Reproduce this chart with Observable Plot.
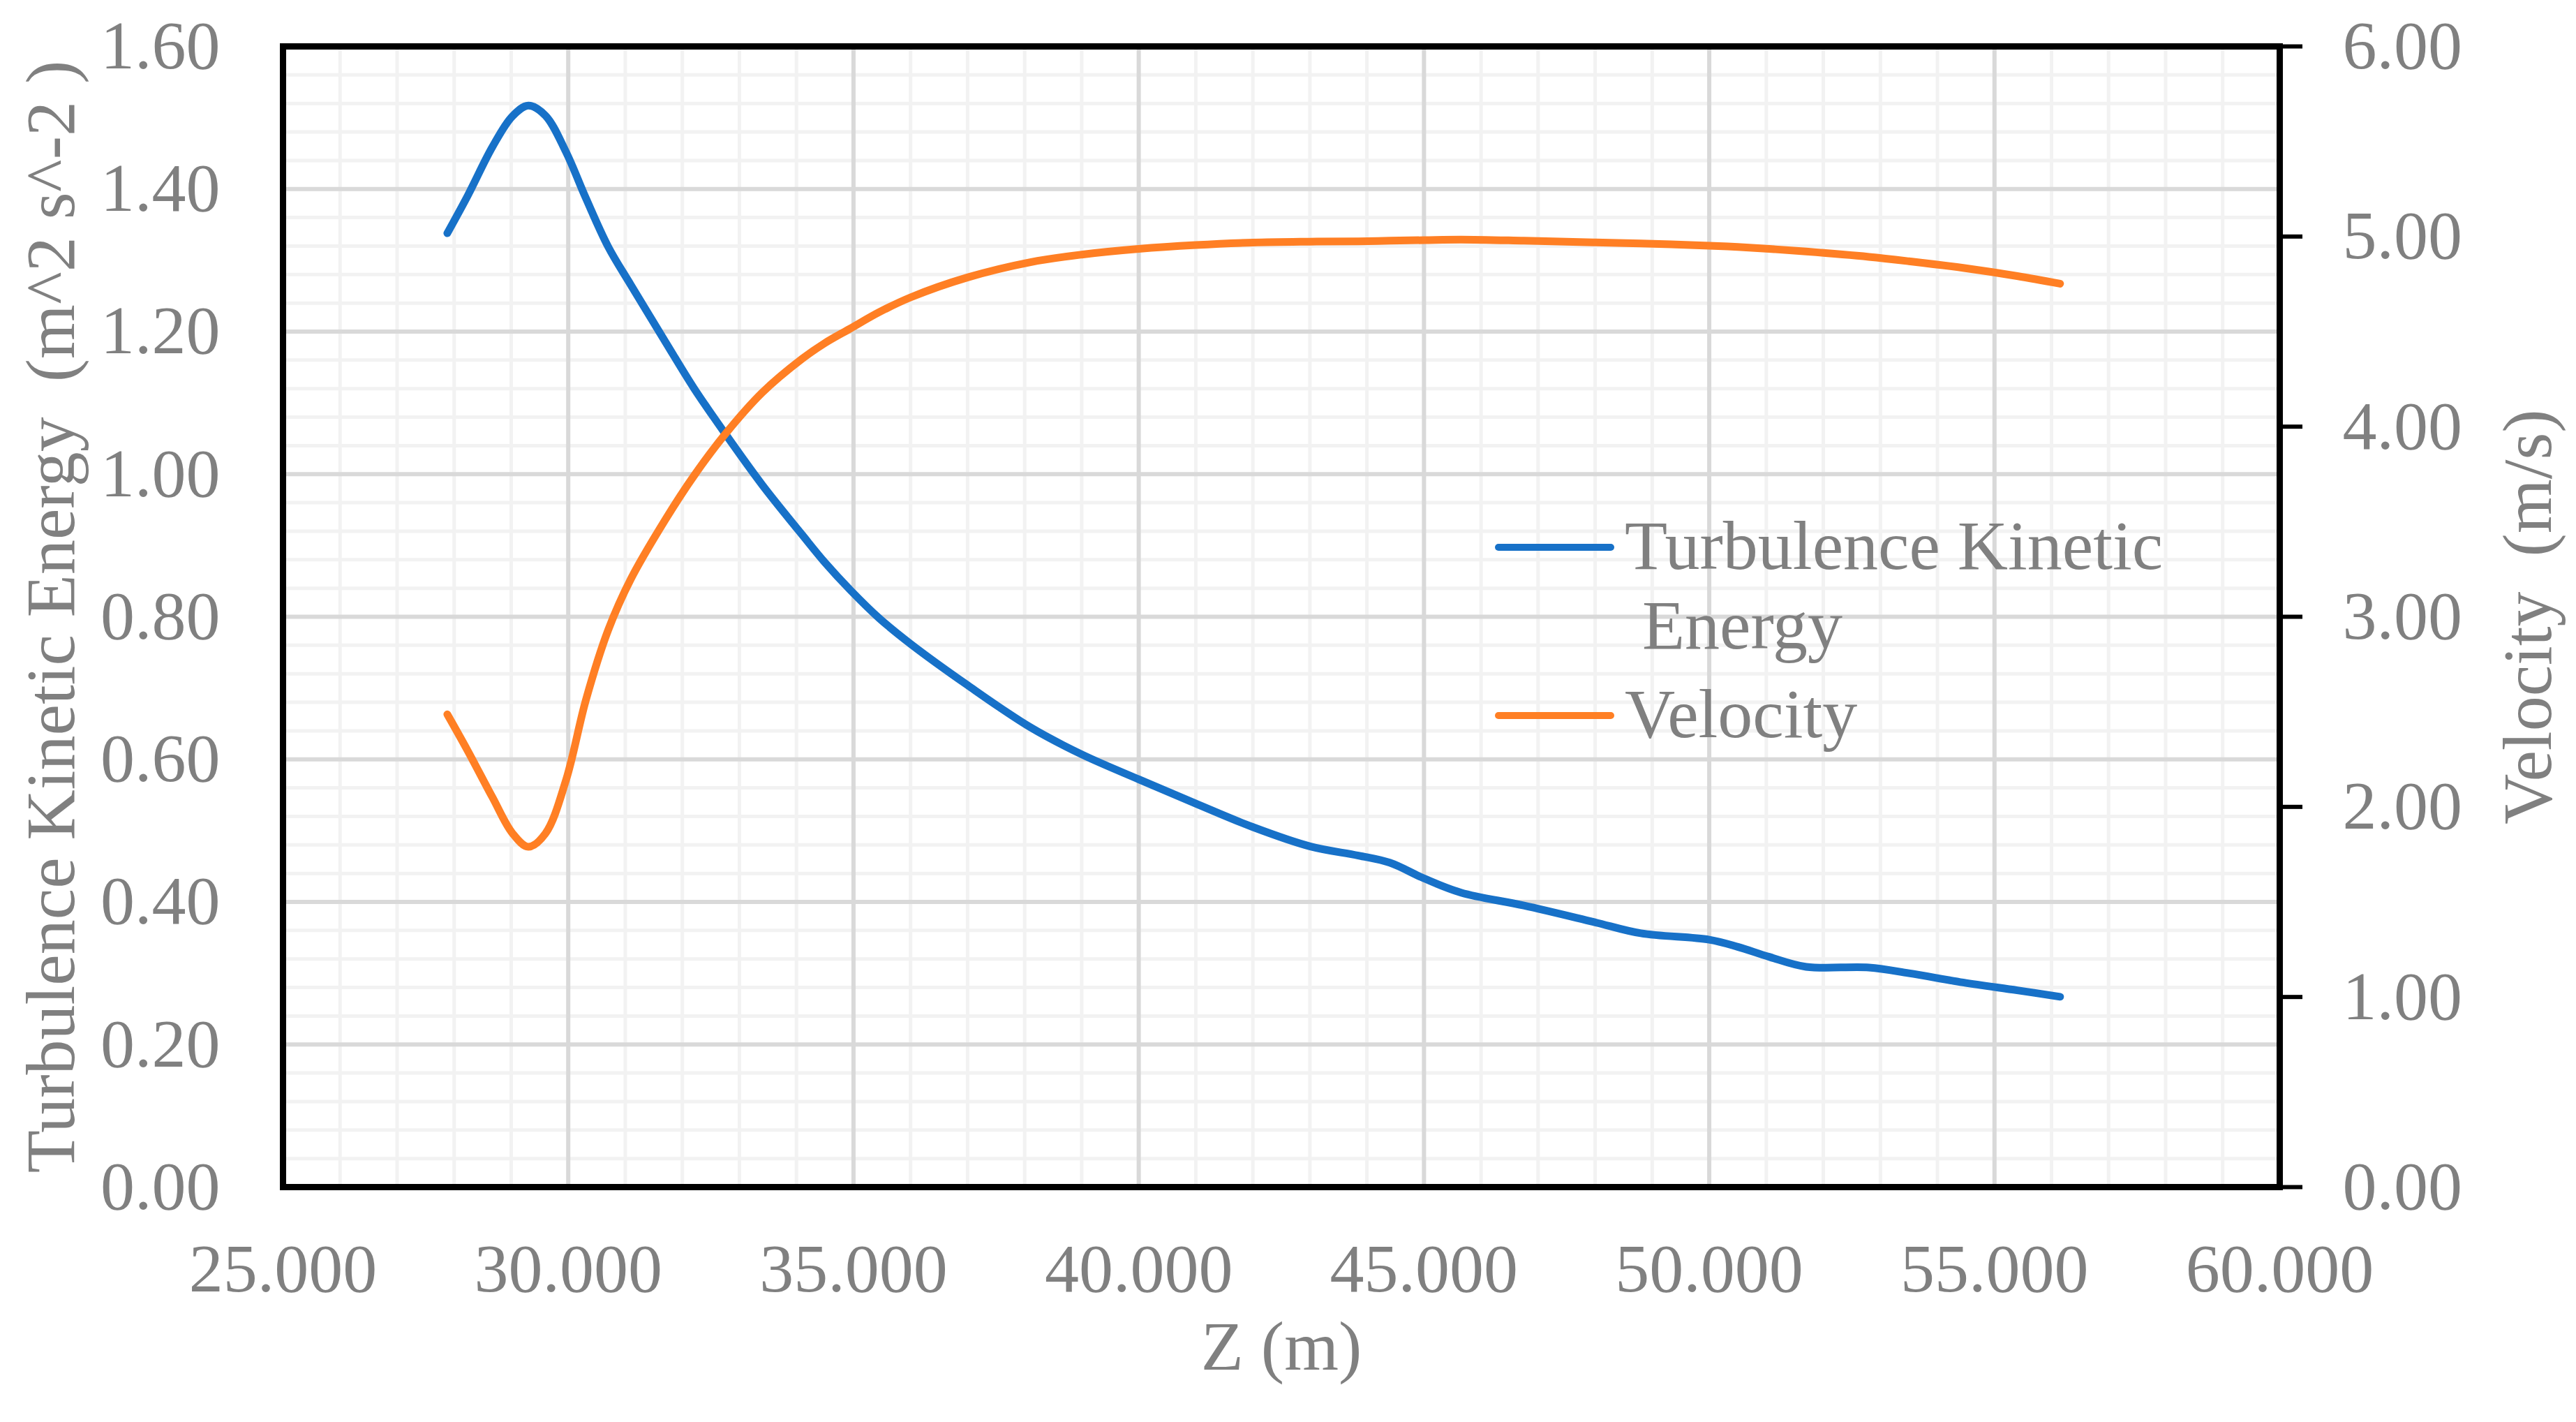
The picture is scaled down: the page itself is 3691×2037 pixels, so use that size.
<!DOCTYPE html>
<html>
<head>
<meta charset="utf-8">
<script src="https://cdn.jsdelivr.net/npm/d3@7"></script>
<script src="https://cdn.jsdelivr.net/npm/@observablehq/plot@0.6"></script>
<style>
  html, body { margin: 0; padding: 0; background: white; overflow: hidden; }
  #chart svg { display: block; }
  #chart text { white-space: pre; }
</style>
</head>
<body>
<div id="chart"></div>
<script>
// Z positions (m)
const zValues = [27.88, 28.24, 28.67, 29.02, 29.3, 29.6, 29.96, 30.31, 30.7, 31.1,
  31.7, 32.2, 32.75, 33.4, 34.1, 34.5, 34.95, 35.45, 36.0, 37.0, 38.1, 39.0,
  40.0, 41.0, 42.0, 43.0, 43.85, 44.4, 45.0, 45.65, 46.75, 47.97,
  48.8, 50.0, 50.5, 51.05, 51.7, 52.8, 53.5, 54.45, 55.4, 56.15];

// Turbulence Kinetic Energy (m^2 s^-2), left axis
const tkeValues = [1.338, 1.391, 1.459, 1.502, 1.517, 1.503, 1.452, 1.387, 1.319, 1.265,
  1.186, 1.121, 1.057, 0.985, 0.915, 0.876, 0.837, 0.798, 0.762, 0.704, 0.645, 0.607,
  0.572, 0.538, 0.505, 0.478, 0.465, 0.455, 0.433, 0.413, 0.395, 0.372,
  0.356, 0.347, 0.337, 0.323, 0.309, 0.308, 0.300, 0.287, 0.276, 0.267];

// Velocity (m/s), right axis
const velValues = [2.487, 2.294, 2.051, 1.862, 1.79, 1.86, 2.14, 2.563, 2.93, 3.20,
  3.51, 3.74, 3.96, 4.179, 4.357, 4.44, 4.517, 4.602, 4.680, 4.785, 4.865, 4.905,
  4.935, 4.955, 4.968, 4.973, 4.975, 4.978, 4.981, 4.984, 4.978, 4.969,
  4.964, 4.952, 4.945, 4.935, 4.921, 4.893, 4.870, 4.835, 4.792, 4.752];

const zTicks = [25, 30, 35, 40, 45, 50, 55, 60];
const tkeTicks = [0, 0.2, 0.4, 0.6, 0.8, 1.0, 1.2, 1.4, 1.6];
const velTicks = [0, 1, 2, 3, 4, 5, 6];
const zMinor = d3.range(25, 60.5, 1);
const tkeMinor = d3.range(0, 1.601, 0.04);

const seriesNames = ["Turbulence Kinetic\n Energy", "Velocity"];
const xTitle = "Z (m)";
const yTitle = "Turbulence Kinetic Energy  (m^2 s^-2 )";
const y2Title = "Velocity  (m/s)";

const blue = "#1771c8";
const orange = "#ff7f24";
const gray = "#808080";
const k = 1.6 / 6; // velocity -> left axis units

const rows = zValues.map((z, i) => ({z, tke: tkeValues[i], vel: velValues[i]}));

const W = 3691, H = 2037;
const mL = 405, mR = 425, mT = 66, mB = 337;

const chart = Plot.plot({
  width: W,
  height: H,
  marginLeft: mL,
  marginRight: mR,
  marginTop: mT,
  marginBottom: mB,
  x: {domain: [25, 60]},
  y: {domain: [0, 1.6]},
  style: {fontFamily: "'Liberation Serif', 'Times New Roman', serif", background: "white"},
  marks: [
    Plot.ruleX(zMinor, {stroke: "#f2f2f2", strokeWidth: 5}),
    Plot.ruleY(tkeMinor, {stroke: "#f2f2f2", strokeWidth: 5}),
    Plot.ruleX(zTicks, {stroke: "#d9d9d9", strokeWidth: 6}),
    Plot.ruleY(tkeTicks, {stroke: "#d9d9d9", strokeWidth: 6}),
    Plot.line(rows, {x: "z", y: "tke", stroke: blue, strokeWidth: 11, curve: "catmull-rom", strokeLinecap: "round"}),
    Plot.line(rows, {x: "z", y: d => d.vel * k, stroke: orange, strokeWidth: 11, curve: "catmull-rom", strokeLinecap: "round"}),
    Plot.frame({stroke: "black", strokeWidth: 9}),
    Plot.axisX({
      ticks: zTicks, tickSize: 0, tickPadding: 80, label: null,
      tickFormat: d => d.toFixed(3), fontSize: 98, fill: gray
    }),
    Plot.axisY({
      anchor: "left", ticks: tkeTicks, tickSize: 0, tickPadding: 90, label: null,
      tickFormat: d => d.toFixed(2), fontSize: 98, fill: gray
    }),
    Plot.axisY({
      anchor: "right", ticks: velTicks.map(v => v * k), tickSize: 32, tickPadding: 58, label: null,
      tickFormat: d => (d / k).toFixed(2), fontSize: 98, fill: gray, stroke: "black", strokeWidth: 6
    }),
    Plot.text([xTitle], {frameAnchor: "bottom", dy: 261, text: d => d, fontSize: 100, fill: gray}),
    Plot.text([yTitle], {frameAnchor: "left", textAnchor: "middle", dx: -332, rotate: -90, text: d => d, fontSize: 100, fill: gray}),
    Plot.text([y2Title], {frameAnchor: "right", textAnchor: "middle", dx: 356, rotate: -90, text: d => d, fontSize: 100, fill: gray})
  ]
});

// legend inside the plot area
const svg = d3.select(chart);
const leg = svg.append("g").attr("font-family", "'Liberation Serif', 'Times New Roman', serif")
  .attr("font-size", 100).attr("fill", gray).attr("text-anchor", "start");
const legColors = [blue, orange];
const legY = [784, 1025];
seriesNames.forEach((name, i) => {
  leg.append("line")
    .attr("x1", 2147).attr("x2", 2308)
    .attr("y1", legY[i]).attr("y2", legY[i])
    .attr("stroke", legColors[i]).attr("stroke-width", 10).attr("stroke-linecap", "round");
  const t = leg.append("text").attr("x", 2328).attr("y", legY[i] + 31).style("white-space", "pre");
  name.split("\n").forEach((line, j) => {
    t.append("tspan").attr("x", 2328).attr("dy", j === 0 ? 0 : 114).text(line);
  });
});

document.getElementById("chart").append(chart);
</script>
</body>
</html>
